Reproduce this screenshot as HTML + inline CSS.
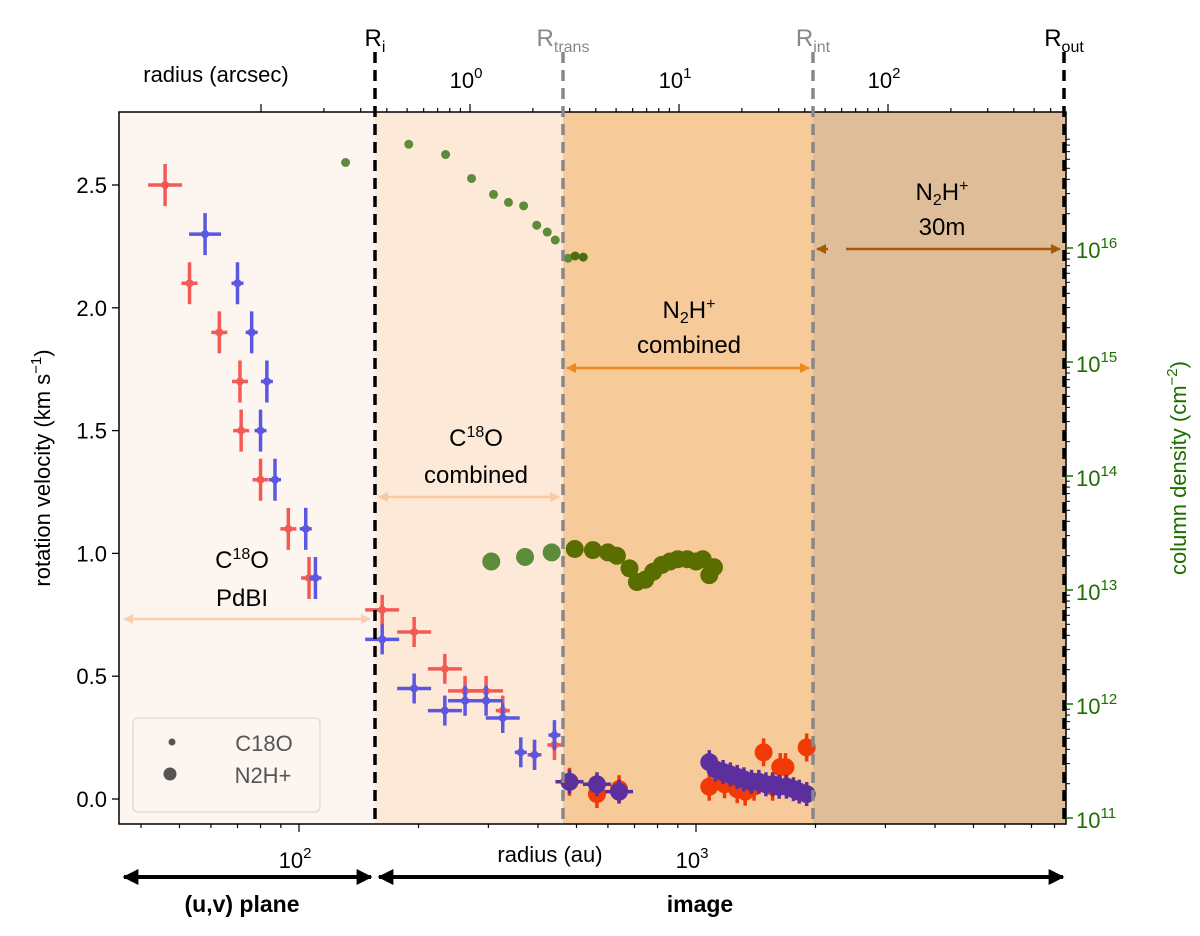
<!DOCTYPE html>
<html><head><meta charset="utf-8"><style>
body{margin:0;background:#fff;}
svg text{font-family:"Liberation Sans",sans-serif;}
</style></head><body>
<svg id="chart" width="1200" height="931" viewBox="0 0 1200 931" xmlns="http://www.w3.org/2000/svg">
<g id="bg"></g><g id="marks"></g><g id="axes"></g><g id="annot"></g>
</svg>
<script>
// ---- data ----
const c18oRedR = [46, 53, 63, 71, 71.5, 80, 94, 106, 162, 195, 233, 262, 296, 326, 392, 440];
const c18oRedV = [2.5, 2.1, 1.9, 1.7, 1.5, 1.3, 1.1, 0.9, 0.77, 0.68, 0.53, 0.44, 0.44, 0.36, 0.18, 0.22];
const c18oBlueR = [58, 70, 76, 83, 80, 87, 104, 110, 162, 195, 233, 262, 296, 326, 362, 392, 440];
const c18oBlueV = [2.3, 2.1, 1.9, 1.7, 1.5, 1.3, 1.1, 0.9, 0.65, 0.45, 0.36, 0.40, 0.40, 0.33, 0.19, 0.18, 0.26];
const n2hRedR = [480, 563, 640, 1080, 1180, 1270, 1330, 1400, 1480, 1560, 1630, 1680, 1900];
const n2hRedV = [0.07, 0.02, 0.04, 0.05, 0.06, 0.04, 0.03, 0.05, 0.19, 0.05, 0.13, 0.13, 0.21];
const n2hBlueR = [480, 563, 640, 1080, 1120, 1170, 1220, 1270, 1320, 1380, 1440, 1500, 1560, 1620, 1690, 1760, 1820, 1900];
const n2hBlueV = [0.07, 0.06, 0.03, 0.15, 0.12, 0.11, 0.10, 0.09, 0.08, 0.07, 0.07, 0.06, 0.06, 0.05, 0.05, 0.04, 0.03, 0.02];
const colSmallR = [131, 189, 234, 272, 309, 337, 368, 397, 422, 442, 476, 496, 520];
const colSmallN = [16.75, 16.91, 16.82, 16.61, 16.47, 16.40, 16.37, 16.20, 16.14, 16.07, 15.91, 15.93, 15.92];
const colBigR = [305, 371, 433, 495, 550, 600, 632, 680, 710, 745, 780, 820, 860, 900, 950, 1000, 1040, 1080, 1110];
const colBigN = [13.25, 13.29, 13.33, 13.36, 13.35, 13.33, 13.30, 13.19, 13.07, 13.09, 13.16, 13.22, 13.25, 13.27, 13.27, 13.25, 13.27, 13.13, 13.20];
const leftTicks = [0.0, 0.5, 1.0, 1.5, 2.0, 2.5];
const rightTicks = [11, 12, 13, 14, 15, 16];
const bottomTicks = [2, 3];
const topTicks = [0, 1, 2];
// ---- scales ----
const L=119,R=1066,T=112,B=824;
const xs = r => 299 + (Math.log10(r)-2)*397;
const ys = v => 799 - v*245.6;
const yn = n => 818 - (n-11)*114;
const xt = a => 470 + Math.log10(a)*209;
const NS='http://www.w3.org/2000/svg';
function mk(tag, attrs, parent, txt){const e=document.createElementNS(NS,tag);for(const k in attrs)e.setAttribute(k,attrs[k]);if(txt!==undefined)e.textContent=txt;parent.appendChild(e);return e;}
const bg=document.getElementById('bg'),marks=document.getElementById('marks'),axes=document.getElementById('axes'),an=document.getElementById('annot');
const regs=[[L,375,'#fdf6f0','uv-region'],[375,563,'#fde9d8','c18o-image-region'],[563,813,'#f7ca9a','n2h-combined-region'],[813,R,'#dfbd99','n2h-30m-region']];
regs.forEach(g=>{const e=mk('rect',{x:g[0],y:T,width:g[1]-g[0],height:B-T,fill:g[2]},bg);

});
function errpt(x,y,col,ex,ey,r,name){const g=mk('g',{},marks);


mk('line',{x1:x-ex,x2:x+ex,y1:y,y2:y,stroke:col,'stroke-width':3.5},g);
mk('line',{x1:x,x2:x,y1:y-ey,y2:y+ey,stroke:col,'stroke-width':3.5},g);
mk('circle',{cx:x,cy:y,r:r,fill:col},g);}
c18oRedR.forEach((r,i)=>{const x=xs(r);const ex=i<8?(i==0?17:8):(i<13?17:7);errpt(x,ys(c18oRedV[i]),'#f45a55',ex,i<8?21:15,4,'c18o-red-point');});
c18oBlueR.forEach((r,i)=>{const x=xs(r);const ex=i<8?(i==0?16:6):(i<14?17:6);errpt(x,ys(c18oBlueV[i]),'#5b57e0',ex,i<8?21:15,4,'c18o-blue-point');});
n2hRedR.forEach((r,i)=>errpt(xs(r),ys(n2hRedV[i]),'#f23a06',5,14,9,'n2h-red-point'));
n2hBlueR.forEach((r,i)=>errpt(xs(r),ys(n2hBlueV[i]),'#5b2f9e',i<3?14:5,12,9,'n2h-blue-point'));
colSmallR.forEach((r,i)=>{const c=mk('circle',{cx:xs(r),cy:yn(colSmallN[i]),r:4.5,fill:i>10?'#4a6d10':'#5c8c3a'},marks);

});
colBigR.forEach((r,i)=>{const c=mk('circle',{cx:xs(r),cy:yn(colBigN[i]),r:9,fill:i<3?'#5c8c3a':'#5a6e00'},marks);

});
mk('rect',{x:L,y:T,width:R-L,height:B-T,fill:'none',stroke:'#000','stroke-width':1.5},axes);
leftTicks.forEach(v=>{const y=ys(v);mk('line',{x1:L-7,x2:L,y1:y,y2:y,stroke:'#000','stroke-width':1.3},axes);
const t=mk('text',{x:L-12,y:y+8,'font-size':22,'text-anchor':'end'},axes,v.toFixed(1));

});
rightTicks.forEach(n=>{const y=yn(n);mk('line',{x1:R,x2:R+7,y1:y,y2:y,stroke:'#1e6e00','stroke-width':1.5},axes);
for(let k=2;k<10&&n<16.9;k++){const yy=yn(n+Math.log10(k));if(yy>T)mk('line',{x1:R,x2:R+4,y1:yy,y2:yy,stroke:'#000','stroke-width':1},axes);}
const t=mk('text',{x:R+10,y:y+10,'font-size':22,fill:'#1e6e00'},axes);
mk('tspan',{},t,'10');mk('tspan',{dy:-10,'font-size':15},t,String(n));

});
for(let d=1;d<=3;d++)for(let k=1;k<10;k++){const r=k*Math.pow(10,d);const x=xs(r);if(x<L||x>R)continue;mk('line',{x1:x,x2:x,y1:B,y2:B+(k==1?8:4),stroke:'#000','stroke-width':1.2},axes);}
bottomTicks.forEach(d=>{const t=mk('text',{x:xs(Math.pow(10,d))-4,y:868,'font-size':22,'text-anchor':'middle'},axes);
mk('tspan',{},t,'10');mk('tspan',{dy:-10,'font-size':15},t,String(d));

});
for(let d=-1;d<=2;d++)for(let k=1;k<10;k++){const a=k*Math.pow(10,d);const x=xt(a);if(x<L||x>R)continue;mk('line',{x1:x,x2:x,y1:T,y2:T-(k==1?8:4),stroke:'#000','stroke-width':1.2},axes);}
topTicks.forEach(d=>{const t=mk('text',{x:xt(Math.pow(10,d))-4,y:88,'font-size':22,'text-anchor':'middle'},axes);
mk('tspan',{},t,'10');mk('tspan',{dy:-10,'font-size':15},t,String(d));

});
[[375,'#000','R','i'],[563,'#888','R','trans'],[813,'#888','R','int'],[1064,'#000','R','out']].forEach(v=>{
mk('line',{x1:v[0],x2:v[0],y1:52,y2:B,stroke:v[1],'stroke-width':3.5,'stroke-dasharray':'11,7'},an);
const t=mk('text',{x:v[0],y:46,'font-size':24,fill:v[1],'text-anchor':'middle'},an);
mk('tspan',{},t,v[2]);mk('tspan',{dy:6,'font-size':16},t,v[3]);

});
</script>
<svg width="1200" height="931" style="position:absolute;left:0;top:0">
<defs>
<marker id="ah" viewBox="0 0 10 10" refX="9" refY="5" markerWidth="4" markerHeight="4" orient="auto-start-reverse"><path d="M0,0L10,5L0,10z" fill="context-stroke"/></marker>
</defs>
<g font-family="Liberation Sans, sans-serif" font-size="24" text-anchor="middle">
<text x="216" y="82" font-size="22">radius (arcsec)</text>
<text x="550" y="862" font-size="22">radius (au)</text>
<text transform="translate(50,468) rotate(-90)" font-size="22">rotation velocity (km s<tspan dy="-9" font-size="15">−1</tspan><tspan dy="9">)</tspan></text>
<text transform="translate(1186,468) rotate(-90)" font-size="22" fill="#1e6e00">column density (cm<tspan dy="-9" font-size="15">−2</tspan><tspan dy="9">)</tspan></text>
<text x="242" y="568">C<tspan dy="-9" font-size="16">18</tspan><tspan dy="9">O</tspan></text>
<text x="242" y="606">PdBI</text>
<line x1="124" x2="370" y1="619" y2="619" stroke="#fbd0b0" stroke-width="2.5" marker-start="url(#ah)" marker-end="url(#ah)"/>
<text x="476" y="446">C<tspan dy="-9" font-size="16">18</tspan><tspan dy="9">O</tspan></text>
<text x="476" y="483">combined</text>
<line x1="379" x2="559" y1="497" y2="497" stroke="#fbc8a0" stroke-width="2.5" marker-start="url(#ah)" marker-end="url(#ah)"/>
<text x="689" y="318">N<tspan dy="5" font-size="16">2</tspan><tspan dy="-5">H</tspan><tspan dy="-9" font-size="16">+</tspan></text>
<text x="689" y="353">combined</text>
<line x1="567" x2="809" y1="368" y2="368" stroke="#ee8a1c" stroke-width="2.5" marker-start="url(#ah)" marker-end="url(#ah)"/>
<text x="942" y="200">N<tspan dy="5" font-size="16">2</tspan><tspan dy="-5">H</tspan><tspan dy="-9" font-size="16">+</tspan></text>
<text x="942" y="235">30m</text>
<line x1="817" x2="828" y1="249" y2="249" stroke="#a65a08" stroke-width="2.5" marker-start="url(#ah)"/>
<line x1="846" x2="1060" y1="249" y2="249" stroke="#a65a08" stroke-width="2.5" marker-end="url(#ah)"/>
<line x1="124" x2="371" y1="877" y2="877" stroke="#000" stroke-width="4" marker-start="url(#ah)" marker-end="url(#ah)"/>
<line x1="379" x2="1063" y1="877" y2="877" stroke="#000" stroke-width="4" marker-start="url(#ah)" marker-end="url(#ah)"/>
<text x="242" y="912" font-weight="bold" font-size="23">(u,v) plane</text>
<text x="700" y="912" font-weight="bold" font-size="23">image</text>
<g>
<rect x="133" y="718" width="187" height="94" rx="5" fill="#fdf6f0" stroke="#ddd" stroke-width="1.5"/>
<circle cx="172" cy="742" r="3.5" fill="#555"/>
<circle cx="170" cy="774" r="6.5" fill="#555"/>
<text x="264" y="751" font-size="22" fill="#555">C18O</text>
<text x="263" y="783" font-size="22" fill="#555">N2H+</text>
</g>
</g>
</svg>
</body></html>
